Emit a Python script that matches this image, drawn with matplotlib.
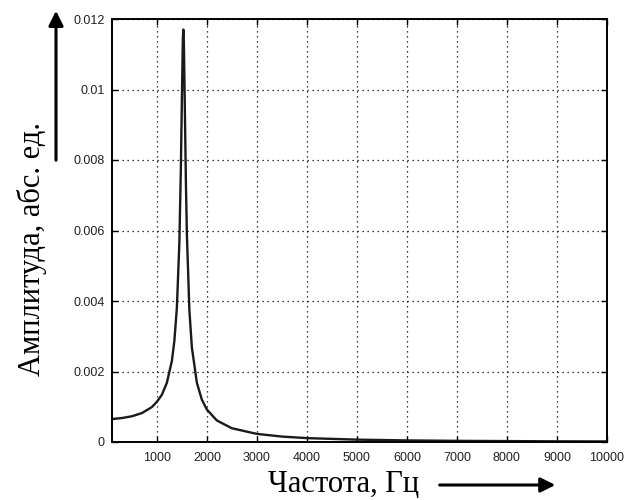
import matplotlib.pyplot as plt
import numpy as np

# частота, Гц и амплитуда, абс. ед.
freq = [100, 300, 500, 700, 900, 1000, 1100, 1200, 1300, 1350, 1400, 1450, 1480,
        1500, 1520, 1530, 1540, 1560, 1580, 1600, 1650, 1700, 1800, 1900, 2000,
        2200, 2500, 3000, 3500, 4000, 5000, 6000, 7000, 8000, 9000, 10000]
amp = [0.00065, 0.00068, 0.00073, 0.00082, 0.00099, 0.00114, 0.00134, 0.00168,
       0.00230, 0.00287, 0.00381, 0.00566, 0.00778, 0.0097, 0.01146, 0.0117,
       0.01132, 0.0094, 0.0074, 0.0059, 0.00374, 0.00268, 0.00168, 0.0012,
       0.00092, 0.00061, 0.00039, 0.00023, 0.000154, 0.00011, 0.000067,
       0.000045, 0.000033, 0.000026, 0.000019, 0.000016]

xticks = [1000, 2000, 3000, 4000, 5000, 6000, 7000, 8000, 9000, 10000]
yticks = [0, 0.002, 0.004, 0.006, 0.008, 0.01, 0.012]
ytick_labels = ['0', '0.002', '0.004', '0.006', '0.008', '0.01', '0.012']

fig = plt.figure(figsize=(6.25, 5), dpi=100)
ax = fig.add_axes([0.179, 0.116, 0.792, 0.846])

ax.plot(freq, amp, color='#1a1a1a', lw=1.7)

ax.set_xlim(100, 10000)
ax.set_ylim(0, 0.012)
ax.set_xticks(xticks)
ax.set_yticks(yticks)
ax.set_yticklabels(ytick_labels)

for lab in ax.get_xticklabels() + ax.get_yticklabels():
    lab.set_family('Liberation Sans')
    lab.set_fontsize(9)
    lab.set_color('#222222')

ax.tick_params(axis='x', direction='in', length=4, width=1, top=True, pad=7)
ax.tick_params(axis='y', direction='in', length=4, width=1, right=True, pad=5)
ax.grid(True, color='black', linestyle=(0, (1, 3)), linewidth=0.9)
for s in ax.spines.values():
    s.set_linewidth(1.4)

# подписи осей
fig.text(0.052, 0.502, 'Амплитуда, абс. ед.', rotation=90, ha='center', va='center',
         family='Liberation Serif', fontsize=22)
fig.text(0.550, 0.030, 'Частота, Гц', ha='center', va='center',
         family='Liberation Serif', fontsize=22)

# стрелки
ax.annotate('', xy=(0.0896, 0.984), xytext=(0.0896, 0.674), xycoords='figure fraction',
            arrowprops=dict(arrowstyle='-|>', color='black', lw=2.2, mutation_scale=22))
ax.annotate('', xy=(0.893, 0.03), xytext=(0.699, 0.03), xycoords='figure fraction',
            arrowprops=dict(arrowstyle='-|>', color='black', lw=2.2, mutation_scale=22))

plt.savefig('out.png', dpi=100)
